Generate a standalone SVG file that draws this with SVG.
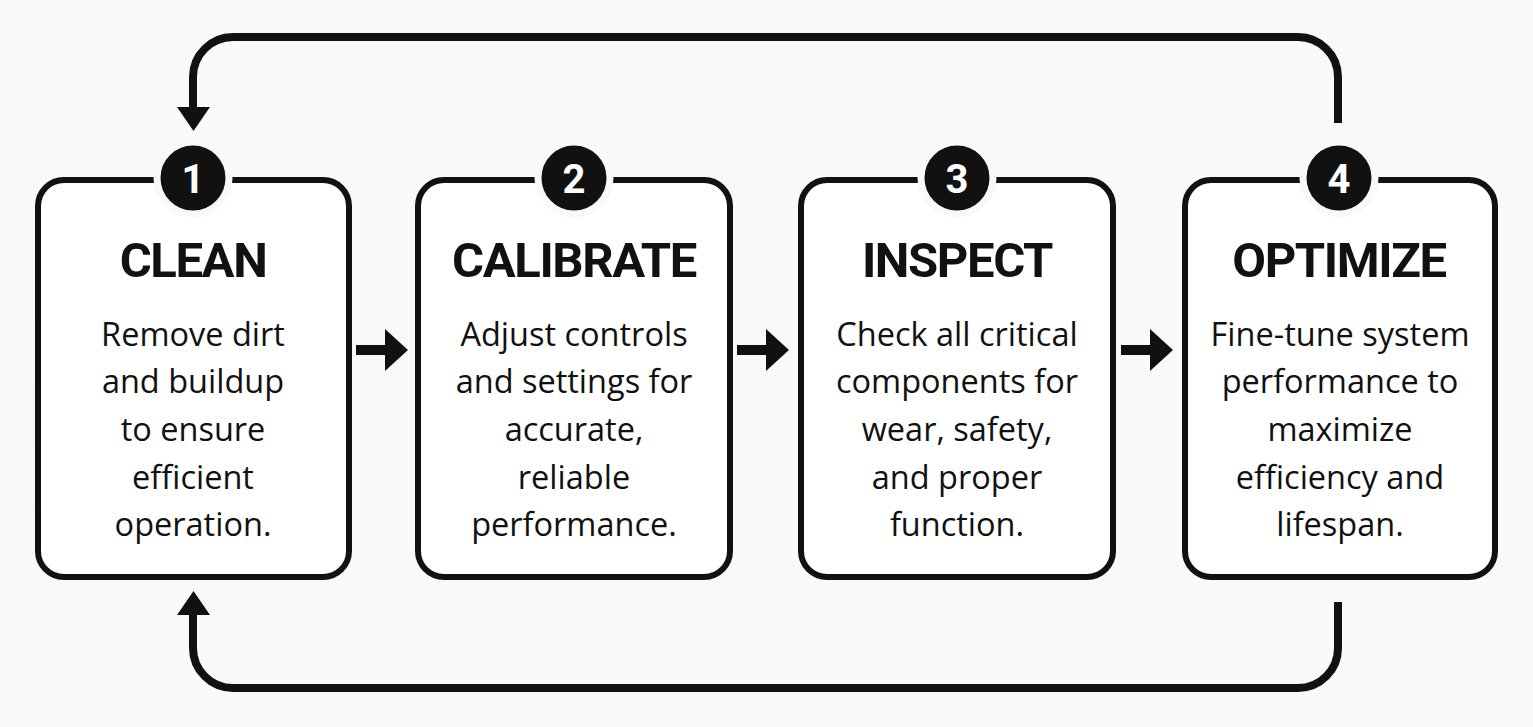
<svg xmlns="http://www.w3.org/2000/svg" width="1533" height="727" viewBox="0 0 1533 727">
<defs>
<style>
.box{fill:#ffffff;stroke:#111;stroke-width:6}
.badge{fill:#111;stroke:#f9f9f9;stroke-width:7}
.num{font-family:Roboto,"Liberation Sans",sans-serif;font-weight:bold;font-size:40px;fill:#fff;text-anchor:middle}
.title{font-family:Roboto,"Liberation Sans",sans-serif;font-weight:bold;font-size:49px;letter-spacing:-1.4px;fill:#111;text-anchor:middle}
.body{font-family:"Open Sans","Noto Sans",sans-serif;font-size:32.5px;fill:#111;text-anchor:middle}
.loop{fill:none;stroke:#111;stroke-width:8}
.shaft{fill:none;stroke:#111;stroke-width:10}
</style>
</defs>
<rect x="0" y="0" width="1533" height="727" fill="#f9f9f9"/>
<g id="connectors">
<path class="loop" d="M1338 123 V77 A40 40 0 0 0 1298 37 H233 A40 40 0 0 0 193 77 V110"/>
<polygon points="177,107 210,107 193.5,131" fill="#111"/>
<path class="loop" d="M1338 602 V648 A40 40 0 0 1 1298 688 H233 A40 40 0 0 1 193 648 V612"/>
<polygon points="177,615 210,615 193.5,591" fill="#111"/>
<line class="shaft" x1="356" y1="350" x2="388" y2="350"/>
<polygon points="385,329 408,350 385,371" fill="#111"/>
<line class="shaft" x1="737" y1="350" x2="769" y2="350"/>
<polygon points="766,329 789,350 766,371" fill="#111"/>
<line class="shaft" x1="1121" y1="350" x2="1153" y2="350"/>
<polygon points="1150,329 1173,350 1150,371" fill="#111"/>
</g>
<g id="node1">
<rect class="box" x="38" y="180" width="311" height="397" rx="26"/>
<circle class="badge" cx="193" cy="178" r="36"/>
<text class="num" x="193" y="193">1</text>
<text class="title" x="193" y="277">CLEAN</text>
<text class="body" x="193" y="346">Remove dirt</text>
<text class="body" x="193" y="393">and buildup</text>
<text class="body" x="193" y="441">to ensure</text>
<text class="body" x="193" y="489">efficient</text>
<text class="body" x="193" y="536">operation.</text>
</g>
<g id="node2">
<rect class="box" x="418" y="180" width="312" height="397" rx="26"/>
<circle class="badge" cx="574" cy="178" r="36"/>
<text class="num" x="574" y="193">2</text>
<text class="title" x="574" y="277">CALIBRATE</text>
<text class="body" x="574" y="346">Adjust controls</text>
<text class="body" x="574" y="393">and settings for</text>
<text class="body" x="574" y="441">accurate,</text>
<text class="body" x="574" y="489">reliable</text>
<text class="body" x="574" y="536">performance.</text>
</g>
<g id="node3">
<rect class="box" x="801" y="180" width="312" height="397" rx="26"/>
<circle class="badge" cx="957" cy="178" r="36"/>
<text class="num" x="957" y="193">3</text>
<text class="title" x="957" y="277">INSPECT</text>
<text class="body" x="957" y="346">Check all critical</text>
<text class="body" x="957" y="393">components for</text>
<text class="body" x="957" y="441">wear, safety,</text>
<text class="body" x="957" y="489">and proper</text>
<text class="body" x="957" y="536">function.</text>
</g>
<g id="node4">
<rect class="box" x="1185" y="180" width="310" height="397" rx="26"/>
<circle class="badge" cx="1339" cy="178" r="36"/>
<text class="num" x="1339" y="193">4</text>
<text class="title" x="1339" y="277">OPTIMIZE</text>
<text class="body" x="1340" y="346">Fine-tune system</text>
<text class="body" x="1340" y="393">performance to</text>
<text class="body" x="1340" y="441">maximize</text>
<text class="body" x="1340" y="489">efficiency and</text>
<text class="body" x="1340" y="536">lifespan.</text>
</g>
</svg>
